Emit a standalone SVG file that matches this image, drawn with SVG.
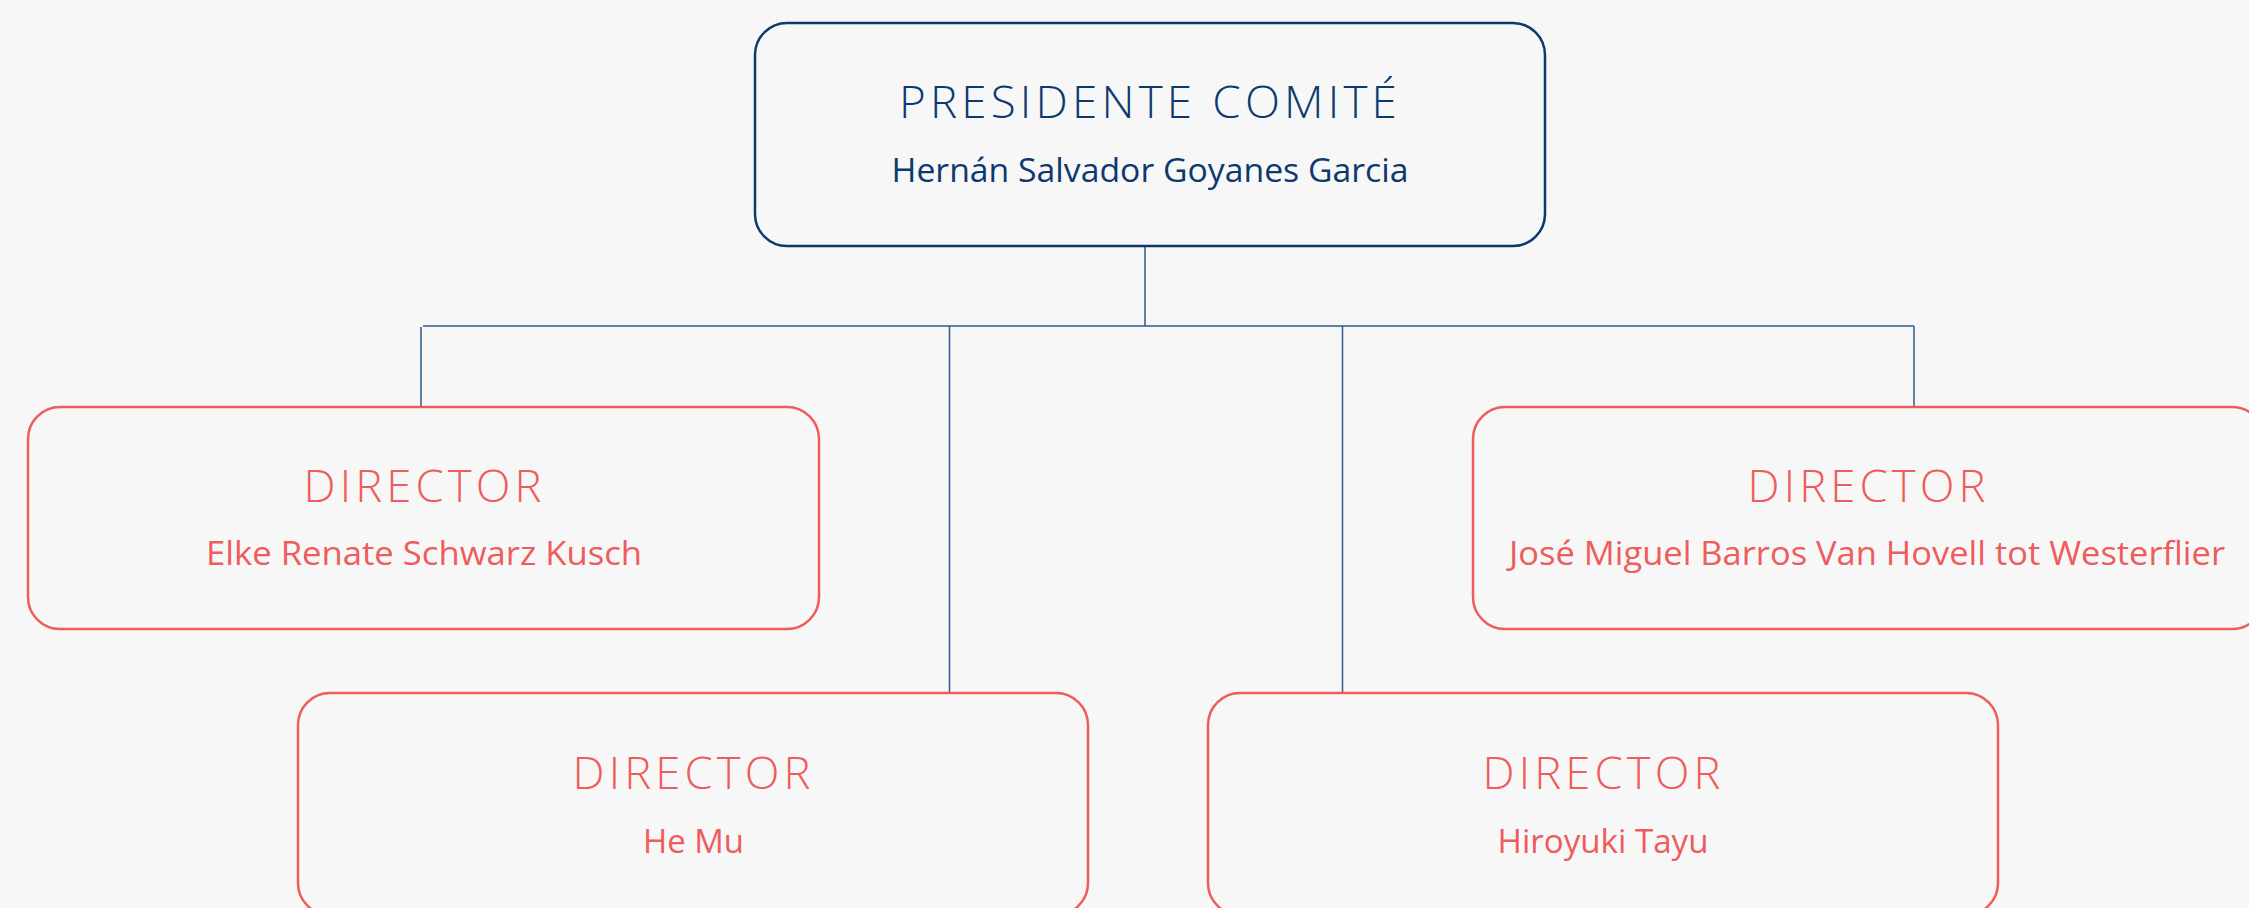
<svg xmlns="http://www.w3.org/2000/svg" width="2249" height="908" viewBox="0 0 2249 908">
  <style>
    .bg { fill: #f7f7f7; }
    .box-blue { fill: #f7f7f7; stroke: #0d3a6e; stroke-width: 2.5; }
    .box-red { fill: #f7f7f7; stroke: #ee5c5c; stroke-width: 2.5; }
    .conn { stroke: #2f5b8d; stroke-width: 1.5; fill: none; }
    .title { font-family: "Open Sans", "Liberation Sans", sans-serif; font-size: 44px; text-anchor: middle; font-weight: 300; letter-spacing: 4px; }
    .name { font-family: "Open Sans", "Liberation Sans", sans-serif; font-size: 32px; text-anchor: middle; font-weight: 400; }
    .blue { fill: #0d3a6e; }
    .red { fill: #ee5c5c; }
  </style>
  <rect class="bg" x="0" y="0" width="2249" height="908"/>

  <g id="connectors">
    <line class="conn" x1="1145" y1="246" x2="1145" y2="326"/>
    <line class="conn" x1="423" y1="326" x2="1914" y2="326"/>
    <line class="conn" x1="421" y1="327" x2="421" y2="407"/>
    <line class="conn" x1="1914" y1="326" x2="1914" y2="407"/>
    <line class="conn" x1="949.5" y1="326" x2="949.5" y2="693"/>
    <line class="conn" x1="1342.5" y1="326" x2="1342.5" y2="693"/>
  </g>

  <g id="presidente">
    <rect class="box-blue" x="755" y="23" width="790" height="223" rx="32" ry="32"/>
    <text class="title blue" x="1150" y="118" textLength="502" lengthAdjust="spacingAndGlyphs">PRESIDENTE COMITÉ</text>
    <text class="name blue" x="1150" y="182" textLength="517" lengthAdjust="spacingAndGlyphs">Hernán Salvador Goyanes Garcia</text>
  </g>

  <g id="director-elke">
    <rect class="box-red" x="28" y="407" width="791" height="222" rx="32" ry="32"/>
    <text class="title red" x="424.5" y="501.5" textLength="242" lengthAdjust="spacingAndGlyphs">DIRECTOR</text>
    <text class="name red" x="424" y="565" textLength="436" lengthAdjust="spacingAndGlyphs">Elke Renate Schwarz Kusch</text>
  </g>

  <g id="director-jose">
    <rect class="box-red" x="1473" y="407" width="791" height="222" rx="32" ry="32"/>
    <text class="title red" x="1868.5" y="501.5" textLength="242" lengthAdjust="spacingAndGlyphs">DIRECTOR</text>
    <text class="name red" x="1867" y="565" textLength="716" lengthAdjust="spacingAndGlyphs">José Miguel Barros Van Hovell tot Westerflier</text>
  </g>

  <g id="director-hemu">
    <rect class="box-red" x="298" y="693" width="790" height="222" rx="32" ry="32"/>
    <text class="title red" x="693.5" y="789" textLength="242" lengthAdjust="spacingAndGlyphs">DIRECTOR</text>
    <text class="name red" x="693.5" y="853" textLength="101" lengthAdjust="spacingAndGlyphs">He Mu</text>
  </g>

  <g id="director-hiroyuki">
    <rect class="box-red" x="1208" y="693" width="790" height="222" rx="32" ry="32"/>
    <text class="title red" x="1603.5" y="789" textLength="242" lengthAdjust="spacingAndGlyphs">DIRECTOR</text>
    <text class="name red" x="1603" y="853" textLength="211" lengthAdjust="spacingAndGlyphs">Hiroyuki Tayu</text>
  </g>
</svg>
